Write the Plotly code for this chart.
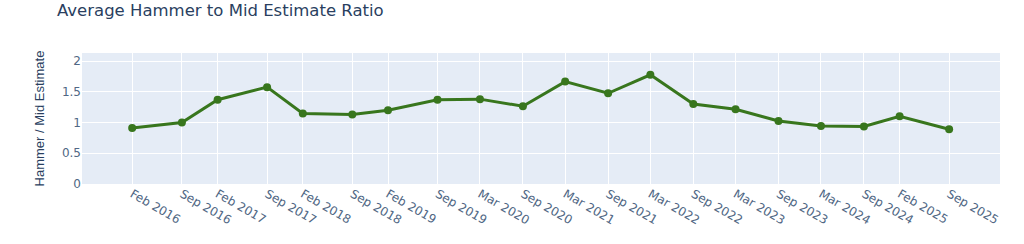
import plotly.graph_objects as go

dates = ["2016-02-01", "2016-09-01", "2017-02-01", "2017-09-01", "2018-02-01",
         "2018-09-01", "2019-02-01", "2019-09-01", "2020-03-01", "2020-09-01",
         "2021-03-01", "2021-09-01", "2022-03-01", "2022-09-01", "2023-03-01",
         "2023-09-01", "2024-03-01", "2024-09-01", "2025-02-01", "2025-09-01"]
tick_labels = ["Feb 2016", "Sep 2016", "Feb 2017", "Sep 2017", "Feb 2018",
               "Sep 2018", "Feb 2019", "Sep 2019", "Mar 2020", "Sep 2020",
               "Mar 2021", "Sep 2021", "Mar 2022", "Sep 2022", "Mar 2023",
               "Sep 2023", "Mar 2024", "Sep 2024", "Feb 2025", "Sep 2025"]
ratio = [0.91, 1.00, 1.37, 1.575, 1.145, 1.13, 1.20, 1.37, 1.38, 1.265,
         1.665, 1.475, 1.775, 1.30, 1.215, 1.025, 0.945, 0.935, 1.10, 0.89]

fig = go.Figure()
fig.add_trace(go.Scatter(
    x=dates, y=ratio, mode="lines+markers",
    line=dict(color="#38761D", width=3),
    marker=dict(color="#38761D", size=8),
    showlegend=False,
))

fig.update_layout(
    template="plotly",
    width=1024, height=244,
    margin=dict(l=82, r=24, t=53, b=60),
    font=dict(family="DejaVu Sans", color="#2a3f5f", size=12),
    title=dict(text="Average Hammer to Mid Estimate Ratio",
               font=dict(family="DejaVu Sans", size=16.5, color="#2a3f5f"),
               x=57 / 1024, xanchor="left", xref="container",
               y=1 - 10 / 244, yanchor="middle", yref="container"),
    plot_bgcolor="#E5ECF6",
    paper_bgcolor="white",
)
fig.update_xaxes(
    type="date",
    range=["2015-07-01", "2026-04-07"],
    tickvals=dates, ticktext=tick_labels, tickangle=30,
    tickfont=dict(family="DejaVu Sans", size=12, color="#506784"),
    gridcolor="white", automargin=False, showline=False, zeroline=False,
)
fig.update_yaxes(
    range=[0, max(ratio) * 1.2],
    tickvals=[0, 0.5, 1, 1.5, 2], ticktext=["0", "0.5", "1", "1.5", "2"],
    tickfont=dict(family="DejaVu Sans", size=12, color="#506784"),
    title=dict(text="Hammer / Mid Estimate",
               font=dict(family="Liberation Sans", size=13), standoff=14),
    gridcolor="white", automargin=False, zeroline=False,
)

fig.write_html("out.html")
